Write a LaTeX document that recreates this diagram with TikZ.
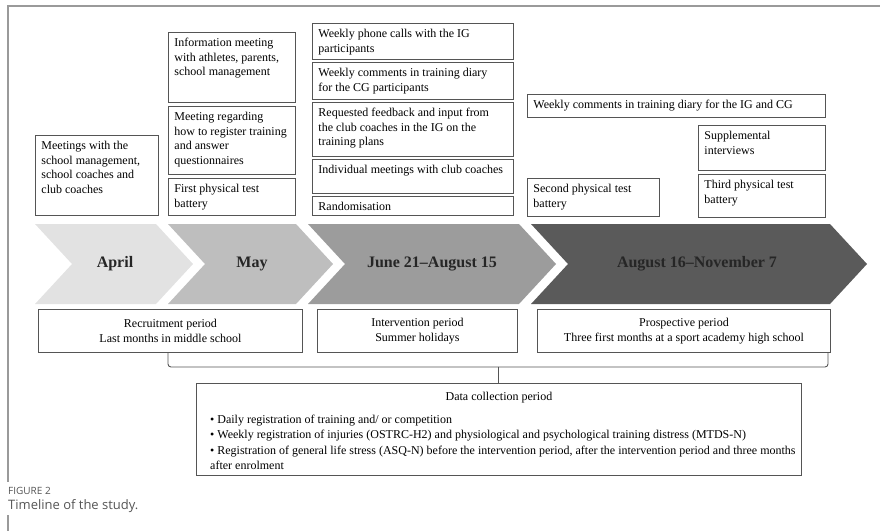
\documentclass[tikz,border=0pt]{standalone}
\usepackage{fontspec}
\setmainfont{Liberation Serif}
\newfontfamily\capfont{Open Sans}
\begin{document}
\definecolor{frameline}{HTML}{9A9A9A}
\definecolor{boxline}{HTML}{555555}
\definecolor{chevA}{HTML}{E2E2E2}
\definecolor{chevB}{HTML}{BEBEBE}
\definecolor{chevC}{HTML}{9C9C9C}
\definecolor{chevD}{HTML}{5A5A5A}
\definecolor{captext}{HTML}{555555}
\tikzset{
  tbox/.style={draw=boxline, line width=0.9pt, fill=white, inner xsep=6pt, inner ysep=4pt, anchor=north west},
  pbox/.style={draw=boxline, line width=0.9pt, fill=white, inner sep=0pt, align=center,
               minimum height=43pt, anchor=north west, font=\fontsize{12}{15}\selectfont},
  chevlabel/.style={font=\fontsize{16}{18}\selectfont\bfseries, text=black!85},
  linkline/.style={draw=boxline, line width=0.9pt, rounded corners=3pt},
}
% text box: name, x, y (top left), width, height, text
\newcommand\tbx[6]{%
  \node[tbox] (#1) at (#2,#3)
    {\parbox[t][\dimexpr#5pt-8pt\relax][t]{\dimexpr#4pt-12pt\relax}%
      {\fontsize{12}{14.5}\selectfont\raggedright\strut #6}};}
% chevron: name, left x, right tip x, fill colour
\newcommand\chev[4]{%
  \fill[#4] (#2,224) -- ({#3-37},224) -- (#3,264) -- ({#3-37},304) -- (#2,304) -- ({#2+37},264) -- cycle;}
\begin{tikzpicture}[x=1pt,y=-1pt]
\useasboundingbox (0,0) rectangle (880,531);
% outer frame (left rule interrupted by the caption)
\draw[frameline, line width=1.3pt] (880,6) -- (8,6) -- (8,482);
\draw[frameline, line width=1.3pt] (8,515) -- (8,531);

% activity boxes
\tbx{meetA}{35}{135}{123}{80}{Meetings with the\\school management,\\school coaches and\\club coaches}
\tbx{infoB}{168}{32}{127}{70}{Information meeting\\with athletes, parents,\\school management}
\tbx{regB}{168}{106}{127}{68}{Meeting regarding\\how to register training\\and answer\\questionnaires}
\tbx{testB}{168}{178}{127}{37}{First physical test\\battery}
\tbx{phoneC}{312}{23}{201}{36}{Weekly phone calls with the IG\\participants}
\tbx{diaryC}{312}{62}{201}{37}{Weekly comments in training diary\\for the CG participants}
\tbx{feedC}{312}{102}{201}{54}{Requested feedback and input from\\the club coaches in the IG on the\\training plans}
\tbx{indivC}{312}{159}{201}{34}{Individual meetings with club coaches}
\tbx{randC}{312}{196}{201}{19}{Randomisation}
\tbx{diaryD}{527}{94}{298}{23}{Weekly comments in training diary for the IG and CG}
\tbx{suppD}{698}{125}{127}{45}{Supplemental\\interviews}
\tbx{thirdD}{698}{174}{127}{43}{Third physical test\\battery}
\tbx{secondD}{527}{178}{132}{38}{Second physical test\\battery}

% timeline chevrons
\chev{april}{35}{193}{chevA}
\chev{may}{168}{333}{chevB}
\chev{june}{308}{556}{chevC}
\chev{aug}{531}{867}{chevD}
\node[chevlabel] (lapril) at (115,264) {April};
\node[chevlabel] (lmay) at (252,264) {May};
\node[chevlabel] (ljune) at (432,264) {June 21–August 15};
\node[chevlabel] (laug) at (697,264) {August 16–November 7};

% period boxes
\node[pbox, minimum width=264pt] (recruit) at (38,309)
  {Recruitment period\\Last months in middle school};
\node[pbox, minimum width=200pt] (interv) at (317,309)
  {Intervention period\\Summer holidays};
\node[pbox, minimum width=293pt] (prosp) at (537,309)
  {Prospective period\\Three first months at a sport academy high school};

% data collection box
\node[draw=boxline, line width=0.9pt, fill=white, minimum width=605pt, minimum height=92pt,
      anchor=north west, inner sep=0pt] (data) at (196,383) {};
\node[anchor=north, inner sep=0pt, font=\fontsize{12}{14}\selectfont] (datatitle)
  at ([yshift=-7pt]data.north) {\strut Data collection period};
\node[anchor=north west, inner sep=0pt, align=left, font=\fontsize{12}{15.5}\selectfont] (datalist)
  at ([xshift=14pt,yshift=-29pt]data.north west)
  {\strut\textbullet\ Daily registration of training and/ or competition\\
   \textbullet\ Weekly registration of injuries (OSTRC-H2) and physiological and psychological training distress (MTDS-N)\\
   \textbullet\ Registration of general life stress (ASQ-N) before the intervention period, after the intervention period and three months\\
   after enrolment};

% bracket joining the periods to the data collection box
\coordinate (bl) at (168,352);
\coordinate (br) at (828,352);
\coordinate (bm) at (498,367);
\draw[linkline] (bl) -- (168,367) -- (bm);
\draw[linkline] (br) -- (828,367) -- (bm);
\draw[draw=boxline, line width=0.9pt] (bm) -- (data.north -| bm);

% caption
\node[anchor=west, inner sep=0pt, text=captext, font=\capfont\fontsize{10}{12}\selectfont] (figlabel) at (8,491) {FIGURE 2};
\node[anchor=west, inner sep=0pt, text=captext, font=\capfont\fontsize{13}{15}\selectfont] (figcap) at (8,506) {Timeline of the study.};
\end{tikzpicture}
\end{document}
